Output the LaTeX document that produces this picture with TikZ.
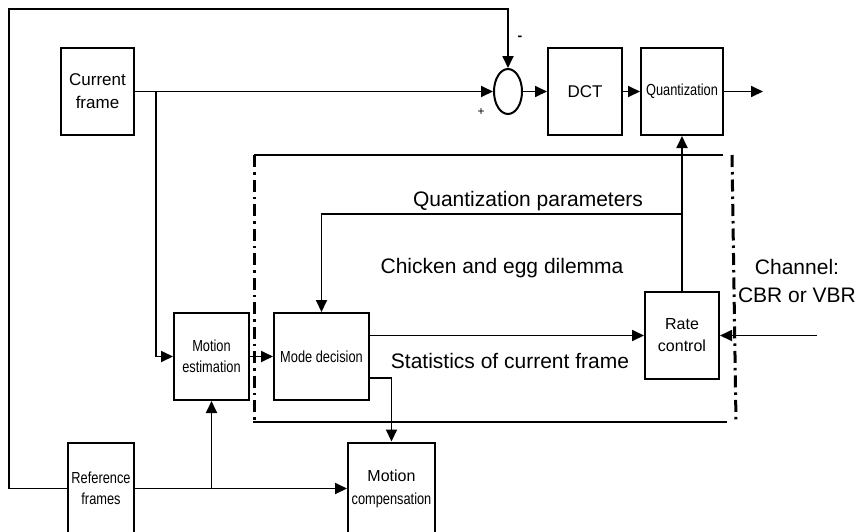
\documentclass[tikz,border=0pt]{standalone}
\usepackage{fontspec}
\setmainfont{Liberation Sans}
\newfontfamily\narrowsf[FakeStretch=0.8]{Liberation Sans}
\usetikzlibrary{arrows.meta,positioning,shapes.geometric,calc}
\tikzset{
  blk/.style={draw,line width=2pt,align=center,inner sep=2pt,font=\fontsize{17}{23}\selectfont},
  sblk/.style={blk,font=\narrowsf\fontsize{16}{21}\selectfont},
  ar/.style={-{Triangle[length=12pt,width=11pt]},line width=1.8pt},
  ln/.style={line width=2pt},
  rim/.style={line width=3pt,dash pattern=on 12pt off 5pt on 2.5pt off 5pt},
  big/.style={font=\fontsize{21}{28}\selectfont,align=center},
}

\begin{document}
\begin{tikzpicture}[x=1pt,y=-1pt]
  \useasboundingbox (0,0) rectangle (860,531);
  % blocks
  \node[blk,minimum width=73pt,minimum height=87pt] (cur) at (97.5,91.5) {Current\\frame};
  \node[draw,ellipse,line width=2pt,minimum width=28pt,minimum height=45pt,inner sep=0pt] (add) at (508,91.5) {};
  \node[blk,minimum width=74pt,minimum height=87pt] (dct) at (585,91.5) {DCT};
  \node[sblk,minimum width=82pt,minimum height=87pt] (qnt) at (682,91.5) {Quantization};
  \node[sblk,minimum width=75pt,minimum height=87pt] (me) at (211.5,356.5) {Motion\\estimation};
  \node[sblk,minimum width=95pt,minimum height=87pt] (md) at (321.5,356.5) {Mode decision};
  \node[blk,font=\fontsize{16}{22}\selectfont,minimum width=74pt,minimum height=87pt] (rc) at (682,335.5) {Rate\\control};
  \node[sblk,minimum width=66pt,minimum height=92pt] (ref) at (101,488.5) {Reference\\frames};
  \node[blk,minimum width=87pt,minimum height=92pt] (mc) at (391.5,488.5) {{\fontsize{16}{20}\selectfont Motion}\\{\narrowsf\fontsize{16}{20}\selectfont compensation}};

  % labels
  \node[font=\fontsize{14}{14}\selectfont\bfseries] (minus) at (520,38) {-};
  \node[font=\fontsize{12}{12}\selectfont] (plus) at (481,112) {+};
  \node[big] (qpl) at (528,201) {Quantization parameters};
  \node[big] (cel) at (502,268) {Chicken and egg dilemma};
  \node[big] (stl) at (510,361) {Statistics of current frame};
  \node[big] (chl) at (797,281) {Channel:\\CBR or VBR};

  % rate control region
  \draw[ln] (254,155) -- (723,155);
  \draw[ln] (253,422) -- (727,422);
  \draw[rim] (254,155) -- (254,422);
  \draw[rim] (732,155) -- (736,422);

  % connectors
  \coordinate (fbl) at (9,488.5);
  \coordinate (fbt) at (add.north |- 0,9);
  \coordinate (cb) at (156,91.5);
  \coordinate (out) at (763,91.5);
  \coordinate (qp) at (rc.north |- 0,214);
  \coordinate (mdo) at ($(md.east)+(0,21.5)$);
  \coordinate (rb) at (me.south |- ref.east);
  \coordinate (chn) at (817,335.5);
  \draw[ar] (ref.west) -- (fbl) |- (fbt) -- (add.north);
  \draw[ar] (cur.east) -- (add.west);
  \draw[ar] (cb) |- (me.west);
  \draw[ar] (add) -- (dct);
  \draw[ar] (dct) -- (qnt);
  \draw[ar] (qnt.east) -- (out);
  \draw[ar] (rc.north) -- (qnt.south);
  \draw[ar] (qp) -| (md.north);
  \draw[ar] (me.east) -- (md.west);
  \draw[ar] (md.east |- rc.west) -- (rc.west);
  \draw[ar] (mdo) -| (mc.north);
  \draw[ar] (ref.east) -- (mc.west);
  \draw[ar] (rb) -- (me.south);
  \draw[ar] (chn) -- (rc.east);
\end{tikzpicture}
\end{document}
